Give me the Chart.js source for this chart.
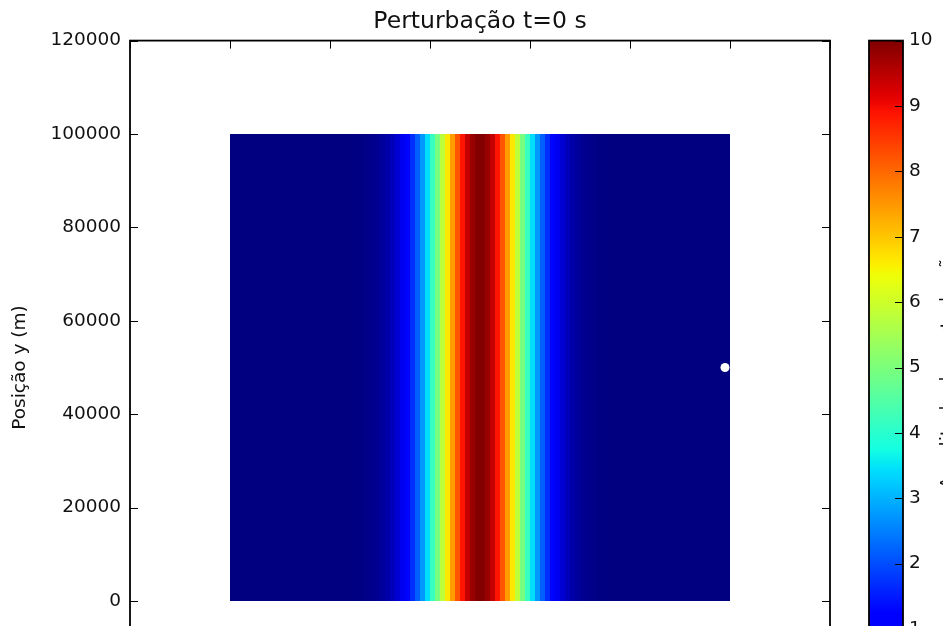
<!DOCTYPE html>
<html>
<head>
<meta charset="utf-8">
<script src="https://cdn.jsdelivr.net/npm/chart.js@4.4.1/dist/chart.umd.min.js"></script>
<style>
  html, body { margin: 0; padding: 0; background: #fff; overflow: hidden; width: 943px; height: 626px; }
  #wrap { position: relative; width: 943px; height: 720px; }
  #main { position: absolute; left: 0; top: 0; }
  #cbar { position: absolute; left: 840px; top: 0; }
</style>
</head>
<body>
<div id="wrap">
  <canvas id="main" width="943" height="720"></canvas>
  <canvas id="cbar" width="103" height="720"></canvas>
</div>
<script>
// ---- data ----
const titleText = 'Perturbação t=0 s';
const yAxisLabel = 'Posição y (m)';
const colorbarLabel = 'Amplitude da perturbação';

// domain grid: 100 columns of 1000 m, each spanning y = 0 .. 100000 m
const cellWidth = 1000;
const gridStartX = 0;
const stripBottom = 0;
const stripTop = 100000;

// perturbation value of each column (left to right)
const perturbation = [
  0, 0, 0, 0, 0, 0, 0, 0, 0, 0,
  0, 0, 0, 0, 0, 0, 0, 0, 0, 0,
  0, 0, 0, 0.01, 0.02, 0.03, 0.05, 0.07, 0.11, 0.17,
  0.25, 0.36, 0.51, 0.71, 0.97, 1.29, 1.70, 2.19, 2.76, 3.42,
  4.16, 4.95, 5.79, 6.63, 7.45, 8.21, 8.88, 9.41, 9.78, 9.98,
  9.98, 9.78, 9.41, 8.88, 8.21, 7.45, 6.63, 5.79, 4.95, 4.16,
  3.42, 2.76, 2.19, 1.70, 1.29, 0.97, 0.71, 0.51, 0.36, 0.25,
  0.17, 0.11, 0.07, 0.05, 0.03, 0.02, 0.01, 0, 0, 0,
  0, 0, 0, 0, 0, 0, 0, 0, 0, 0,
  0, 0, 0, 0, 0, 0, 0, 0, 0, 0
];

// probe location (white marker)
const probeX = [99000];
const probeY = [50000];

// axes
const axisMin = -20000;
const axisMax = 120000;
const axisStep = 20000;
const colorMin = 0;
const colorMax = 10;
const colorStep = 1;

// ---- jet colormap ----
function jet(t) {
  t = Math.max(0, Math.min(1, t));
  let r, g, b;
  if (t < 0.35) r = 0; else if (t < 0.66) r = (t - 0.35) / 0.31; else if (t < 0.89) r = 1; else r = 1 - 0.5 * (t - 0.89) / 0.11;
  if (t < 0.125) g = 0; else if (t < 0.375) g = (t - 0.125) / 0.25; else if (t < 0.64) g = 1; else if (t < 0.91) g = 1 - (t - 0.64) / 0.27; else g = 0;
  if (t < 0.11) b = 0.5 + 0.5 * t / 0.11; else if (t < 0.34) b = 1; else if (t < 0.65) b = 1 - (t - 0.34) / 0.31; else b = 0;
  return `rgb(${Math.round(r * 255)},${Math.round(g * 255)},${Math.round(b * 255)})`;
}

const FONT = 'DejaVu Sans';
const TEXT = '#111';

// plot box geometry (pixels)
const PLOT_TOP = 40.6;
const PLOT_BOTTOM = 694.4;
const CANVAS_H = 720;

const cells = perturbation.map((v, i) => ({ x: gridStartX + cellWidth * (i + 0.5), y: [stripBottom, stripTop] }));
const cellColors = perturbation.map(v => jet((v - colorMin) / (colorMax - colorMin)));
const probe = probeX.map((x, i) => ({ x, y: probeY[i] }));

// frame box with inward tick marks on all four sides
const frameTicks = {
  id: 'frameTicks',
  afterDatasetsDraw(chart) {
    const { ctx, chartArea: a, scales } = chart;
    const len = 8;
    ctx.save();
    ctx.strokeStyle = '#000';
    ctx.lineWidth = 1;
    ctx.beginPath();
    scales.x.ticks.forEach(t => {
      const px = Math.round(scales.x.getPixelForValue(t.value)) + 0.5;
      ctx.moveTo(px, a.top); ctx.lineTo(px, a.top + len);
      ctx.moveTo(px, a.bottom); ctx.lineTo(px, a.bottom - len);
    });
    scales.y.ticks.forEach(t => {
      const py = Math.round(scales.y.getPixelForValue(t.value)) + 0.5;
      ctx.moveTo(a.left, py); ctx.lineTo(a.left + len, py);
      ctx.moveTo(a.right, py); ctx.lineTo(a.right - len, py);
    });
    ctx.stroke();
    ctx.lineWidth = 1.8;
    ctx.strokeRect(a.left, a.top, a.right - a.left, a.bottom - a.top);
    ctx.restore();
  }
};

new Chart(document.getElementById('main'), {
  type: 'bar',
  data: {
    datasets: [
      {
        type: 'scatter',
        data: probe,
        pointRadius: 4.5,
        backgroundColor: '#fff',
        borderColor: '#fff',
        borderWidth: 0,
        order: 0
      },
      {
        type: 'bar',
        data: cells,
        backgroundColor: cellColors,
        borderWidth: 0,
        inflateAmount: 0,
        barPercentage: 1,
        categoryPercentage: 1,
        order: 1
      }
    ]
  },
  options: {
    responsive: false,
    animation: false,
    events: [],
    layout: { padding: { left: 0, top: 0, right: 113, bottom: 0 } },
    plugins: {
      legend: { display: false },
      tooltip: { enabled: false },
      title: {
        display: true,
        text: titleText,
        fullSize: false,
        color: TEXT,
        font: { family: FONT, size: 23.5, weight: 'normal', lineHeight: 1.2 },
        padding: { top: 8, bottom: PLOT_TOP - 8 - 23.5 * 1.2 }
      }
    },
    scales: {
      x: {
        type: 'linear',
        min: axisMin, max: axisMax,
        offset: false,
        ticks: { display: false, stepSize: axisStep },
        grid: { display: false, drawTicks: false },
        border: { display: false },
        afterFit(s) { s.height = CANVAS_H - PLOT_BOTTOM; }
      },
      y: {
        type: 'linear',
        min: axisMin, max: axisMax,
        ticks: {
          stepSize: axisStep,
          padding: 9,
          color: TEXT,
          font: { family: FONT, size: 18.5 },
          callback: v => String(v)
        },
        grid: { display: false, drawTicks: false },
        border: { display: false },
        title: {
          display: true,
          text: yAxisLabel,
          color: TEXT,
          font: { family: FONT, size: 18.5 },
          padding: { top: 9, bottom: 0 }
        },
        afterFit(s) { s.width = 130; }
      }
    }
  },
  plugins: [frameTicks]
});

// colorbar frame, inward ticks on the right edge and its rotated label
const cbarFrame = {
  id: 'cbarFrame',
  afterDatasetsDraw(chart) {
    const { ctx, chartArea: a, scales } = chart;
    ctx.save();
    ctx.strokeStyle = '#000';
    ctx.lineWidth = 1;
    ctx.beginPath();
    scales.y.ticks.forEach(t => {
      const py = Math.round(scales.y.getPixelForValue(t.value)) + 0.5;
      ctx.moveTo(a.right, py); ctx.lineTo(a.right - 8, py);
    });
    ctx.stroke();
    ctx.lineWidth = 1.8;
    ctx.strokeRect(a.left, a.top, a.right - a.left, a.bottom - a.top);
    ctx.translate(a.right + 45, (a.top + a.bottom) / 2);
    ctx.rotate(-Math.PI / 2);
    ctx.fillStyle = TEXT;
    ctx.font = `18.5px "${FONT}"`;
    ctx.textAlign = 'center';
    ctx.textBaseline = 'middle';
    ctx.fillText(colorbarLabel, 0, 0);
    ctx.restore();
  }
};

new Chart(document.getElementById('cbar'), {
  type: 'bar',
  data: {
    labels: [''],
    datasets: [{
      data: [[colorMin, colorMax]],
      backgroundColor(c) {
        const a = c.chart.chartArea;
        if (!a) return jet(0);
        const g = c.chart.ctx.createLinearGradient(0, a.bottom, 0, a.top);
        for (let i = 0; i <= 64; i++) g.addColorStop(i / 64, jet(i / 64));
        return g;
      },
      borderWidth: 0,
      barPercentage: 1,
      categoryPercentage: 1
    }]
  },
  options: {
    responsive: false,
    animation: false,
    events: [],
    layout: { padding: { left: 29, top: PLOT_TOP, right: 0, bottom: CANVAS_H - PLOT_BOTTOM } },
    plugins: { legend: { display: false }, tooltip: { enabled: false } },
    scales: {
      x: { display: false },
      y: {
        position: 'right',
        min: colorMin, max: colorMax,
        ticks: {
          stepSize: colorStep,
          padding: 6,
          autoSkip: false,
          color: TEXT,
          font: { family: FONT, size: 18.5 },
          callback: v => String(v)
        },
        grid: { display: false, drawTicks: false },
        border: { display: false },
        afterFit(s) { s.width = 40; }
      }
    }
  },
  plugins: [cbarFrame]
});
</script>
</body>
</html>
